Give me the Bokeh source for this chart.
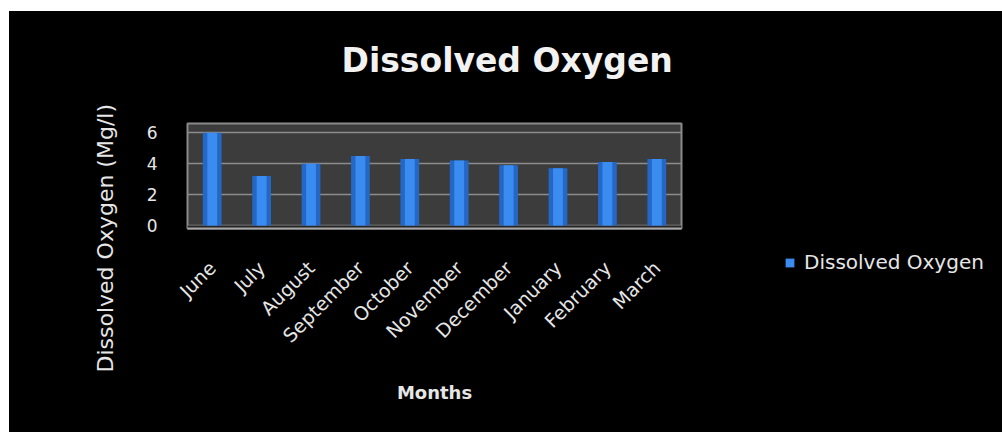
from math import pi
from bokeh.plotting import figure
from bokeh.layouts import row
from bokeh.models import (ColumnDataSource, Range1d, Title, Legend, LegendItem,
                          BoxAnnotation, FixedTicker)
from bokeh.embed import file_html
from bokeh.resources import INLINE

# ---- data ----
months = ["June", "July", "August", "September", "October", "November",
          "December", "January", "February", "March"]
dissolved_oxygen = [6.0, 3.2, 4.0, 4.5, 4.3, 4.2, 3.9, 3.7, 4.1, 4.3]
y_ticks = [0, 2, 4, 6]
series_name = "Dissolved Oxygen"
chart_title = "Dissolved Oxygen"
x_title = "Months"
y_title = "Dissolved Oxygen (Mg/l)"

FONT = "DejaVu Sans"
TXT = "#e6e6e6"
BAR_DARK = "#2467c4"
BAR_LIGHT = "#3a8cf0"

src = ColumnDataSource(dict(month=months, value=dissolved_oxygen))

p = figure(x_range=months, y_range=Range1d(-0.2, 6.6),
           width=770, height=421, output_backend="svg", toolbar_location=None,
           background_fill_color="#3c3c3c", border_fill_color="black",
           outline_line_color="#8a8a8a", outline_line_width=2,
           min_border_left=178, min_border_right=98,
           min_border_top=112, min_border_bottom=204)
p.frame_align = False

# floor band
p.add_layout(BoxAnnotation(bottom=-0.2, top=0, fill_color="#252525",
                           fill_alpha=1, line_color=None, level="underlay"))

p.vbar(x="month", top="value", bottom=0, width=0.38, source=src,
       fill_color=BAR_DARK, line_color=None)
p.vbar(x="month", top="value", bottom=0, width=0.2, source=src,
       fill_color=BAR_LIGHT, line_color=None)

# title (a small blank spacer sits between the title and the frame)
p.title.text = chart_title
p.title.text_font = FONT
p.title.text_font_size = "33px"
p.title.text_font_style = "bold"
p.title.text_color = "#f2f2f2"
p.title.align = "left"
p.title.offset = 154
p.title.standoff = 0
p.title.vertical_align = "top"
p.add_layout(Title(text=" ", text_font_size="1px", standoff=39), "above")

# grid
p.xgrid.grid_line_color = None
p.ygrid.grid_line_color = "#8c8c8c"
p.ygrid.grid_line_width = 1.5
p.ygrid.ticker = FixedTicker(ticks=y_ticks)

# y axis
p.yaxis.ticker = FixedTicker(ticks=y_ticks)
p.yaxis.axis_line_color = None
p.yaxis.major_tick_line_color = None
p.yaxis.minor_tick_line_color = None
p.yaxis.major_label_text_font = FONT
p.yaxis.major_label_text_font_size = "17px"
p.yaxis.major_label_text_color = TXT
p.yaxis.major_label_standoff = 24

# x axis
p.xaxis.axis_line_color = "#a8a8a8"
p.xaxis.axis_line_width = 2
p.xaxis.major_tick_line_color = None
p.xaxis.major_label_orientation = pi / 4
p.xaxis.major_label_text_font = FONT
p.xaxis.major_label_text_font_size = "19px"
p.xaxis.major_label_text_color = TXT
p.xaxis.major_label_standoff = 30
p.xaxis.axis_label = x_title
p.xaxis.axis_label_text_font = FONT
p.xaxis.axis_label_text_font_size = "18px"
p.xaxis.axis_label_text_font_style = "bold"
p.xaxis.axis_label_text_color = TXT
p.xaxis.axis_label_standoff = 25

# y title as a side title
yt = Title(text=y_title, align="left", offset=-144, standoff=52,
           text_font=FONT, text_font_size="22px", text_font_style="normal",
           text_color=TXT)
p.add_layout(yt, "left")

# ---- legend panel (separate figure at the right) ----
q = figure(width=223, height=421, output_backend="svg", toolbar_location=None,
           x_range=Range1d(0, 1), y_range=Range1d(0, 1),
           x_axis_location=None, y_axis_location=None,
           background_fill_color="black", border_fill_color="black",
           outline_line_color=None, min_border=0)
q.frame_align = False
q.grid.visible = False
# series glyph used only as legend key (lies outside the visible range)
lr = q.vbar(x=[5], top=[1], bottom=0, width=0.4,
            fill_color=BAR_LIGHT, line_color=None)

legend = Legend(items=[LegendItem(label=series_name, renderers=[lr])],
                location=(5, 158), padding=0, margin=0,
                glyph_width=11, glyph_height=11, label_standoff=9,
                background_fill_alpha=0, border_line_color=None,
                inactive_fill_alpha=0,
                label_text_font=FONT, label_text_font_size="20px",
                label_text_color=TXT)
q.add_layout(legend)

layout = row(p, q, margin=(11, 0, 0, 9), spacing=0,
             styles={"background-color": "black"})
open("out.html", "w").write(file_html(layout, INLINE))
